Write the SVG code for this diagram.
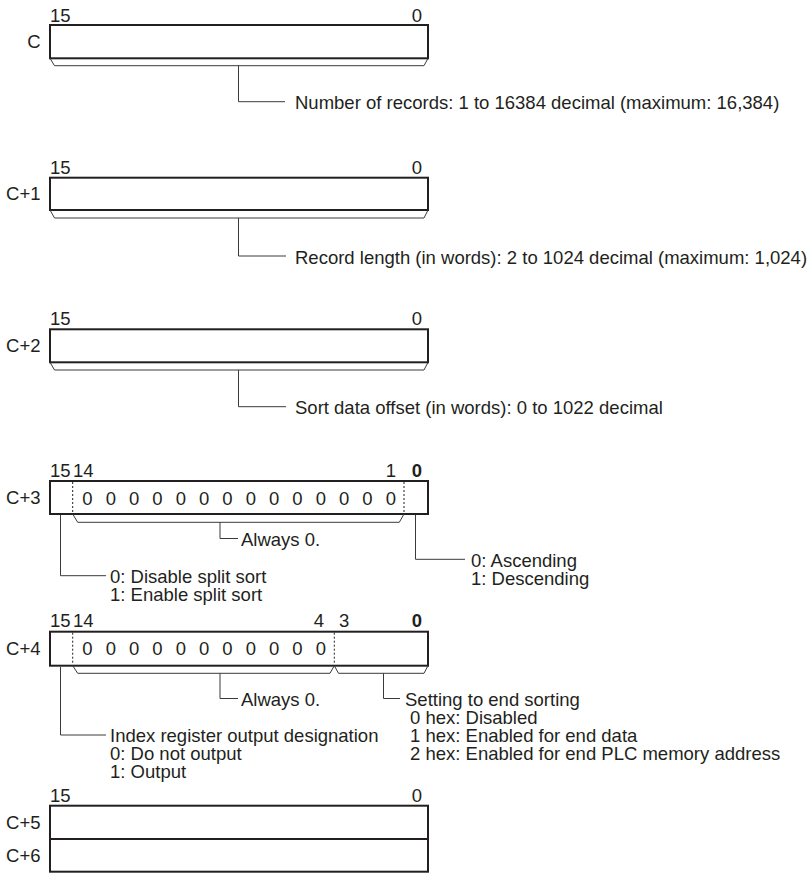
<svg xmlns="http://www.w3.org/2000/svg" width="811" height="873" viewBox="0 0 811 873">
<style>
text{font-family:"Liberation Sans",Arial,Helvetica,sans-serif;font-size:18.5px;fill:#231f20}
.e{text-anchor:end}
.m{text-anchor:middle}
.b{font-weight:bold}
.box{fill:#fff;stroke:#231f20;stroke-width:2}
.br{fill:none;stroke:#3a3a3a;stroke-width:1}
.ln{fill:none;stroke:#3a3a3a;stroke-width:1}
.dot{stroke:#231f20;stroke-width:1;stroke-dasharray:2 2}
</style>
<rect width="811" height="873" fill="#fff"/>

<g id="word-C">
<text x="50" y="22">15</text><text class="e" x="422" y="22">0</text>
<text class="e" x="40.5" y="48.2">C</text>
<rect class="box" x="50" y="25" width="378" height="33.3"/>
</g>

<g id="word-C1">
<text x="50" y="174.2">15</text><text class="e" x="422" y="174.2">0</text>
<text class="e" x="40.5" y="200.3">C+1</text>
<rect class="box" x="50" y="177.7" width="378" height="32.3"/>
</g>

<g id="word-C2">
<text x="50" y="325">15</text><text class="e" x="422" y="325">0</text>
<text class="e" x="40.5" y="352.3">C+2</text>
<rect class="box" x="50" y="329.3" width="378" height="33"/>
</g>

<g id="word-C3">
<text x="50" y="477.3">15</text><text x="73" y="477.3">14</text>
<text class="e" x="396" y="477.3">1</text><text class="e b" x="422" y="477.3">0</text>
<text class="e" x="40.5" y="504">C+3</text>
<rect class="box" x="50" y="481" width="378" height="33"/>
<line class="dot" x1="72.7" y1="482" x2="72.7" y2="513"/>
<line class="dot" x1="404" y1="482" x2="404" y2="513"/>
<g class="m">
<text class="m" x="87.5" y="504.5">0</text><text class="m" x="110.8" y="504.5">0</text><text class="m" x="134.2" y="504.5">0</text><text class="m" x="157.5" y="504.5">0</text><text class="m" x="180.8" y="504.5">0</text><text class="m" x="204.2" y="504.5">0</text><text class="m" x="227.5" y="504.5">0</text><text class="m" x="250.8" y="504.5">0</text><text class="m" x="274.2" y="504.5">0</text><text class="m" x="297.5" y="504.5">0</text><text class="m" x="320.8" y="504.5">0</text><text class="m" x="344.2" y="504.5">0</text><text class="m" x="367.5" y="504.5">0</text><text class="m" x="390.8" y="504.5">0</text>
</g>
</g>

<g id="word-C4">
<text x="50" y="626.7">15</text><text x="73" y="626.7">14</text>
<text class="e" x="324" y="626.7">4</text><text x="339" y="626.7">3</text>
<text class="e b" x="422" y="626.7">0</text>
<text class="e" x="40.5" y="655.2">C+4</text>
<rect class="box" x="50" y="631.7" width="378" height="34"/>
<line class="dot" x1="72.7" y1="632.7" x2="72.7" y2="664.7"/>
<line class="dot" x1="334.3" y1="632.7" x2="334.3" y2="664.7"/>
<text class="m" x="87.5" y="655">0</text><text class="m" x="110.8" y="655">0</text><text class="m" x="134.2" y="655">0</text><text class="m" x="157.5" y="655">0</text><text class="m" x="180.8" y="655">0</text><text class="m" x="204.2" y="655">0</text><text class="m" x="227.5" y="655">0</text><text class="m" x="250.8" y="655">0</text><text class="m" x="274.2" y="655">0</text><text class="m" x="297.5" y="655">0</text><text class="m" x="320.8" y="655">0</text>
</g>

<g id="word-C5-C6">
<text x="50" y="801.7">15</text><text class="e" x="422" y="801.7">0</text>
<text class="e" x="40.5" y="828.8">C+5</text>
<text class="e" x="40.5" y="861.8">C+6</text>
<rect class="box" x="50" y="805.7" width="378" height="33.3"/>
<rect class="box" x="50" y="839" width="378" height="32.7"/>
</g>

<g id="connectors">
<polyline class="br" points="50,58.3 54.5,65.7 424,65.7 428,58.3"/>
<polyline class="ln" points="238.5,65.7 238.5,101.7 285,101.7"/>
<polyline class="br" points="50,210 54.5,218 424,218 428,210"/>
<polyline class="ln" points="238.5,218 238.5,256 286,256"/>
<polyline class="br" points="50,362.3 54.5,370 424,370 428,362.3"/>
<polyline class="ln" points="238.5,370 238.5,406.7 286,406.7"/>
<polyline class="br" points="72.7,514 77.7,522.3 399.3,522.3 404,514"/>
<polyline class="ln" points="220,522.3 220,538.5 238,538.5"/>
<polyline class="ln" points="60.5,515 60.5,575.7 106,575.7"/>
<polyline class="ln" points="415.5,515 415.5,559.3 465,559.3"/>
<polyline class="br" points="72.7,665.7 77.7,673.3 330,673.3 334.3,665.7 338.5,673.3 424,673.3 428,665.7"/>
<polyline class="ln" points="220,673.3 220,698.5 238,698.5"/>
<polyline class="ln" points="383.5,673.3 383.5,698.5 400,698.5"/>
<polyline class="ln" points="60.5,666.7 60.5,735 106,735"/>
</g>

<g id="labels">
<text x="295" y="109">Number of records: 1 to 16384 decimal (maximum: 16,384)</text>
<text x="295" y="263.5">Record length (in words): 2 to 1024 decimal (maximum: 1,024)</text>
<text x="295" y="414">Sort data offset (in words): 0 to 1022 decimal</text>
<text x="241" y="546">Always 0.</text>
<text x="110" y="583.3">0: Disable split sort</text>
<text x="110" y="601.3">1: Enable split sort</text>
<text x="471" y="566.5">0: Ascending</text>
<text x="471" y="584.5">1: Descending</text>
<text x="241" y="706">Always 0.</text>
<text x="405" y="706">Setting to end sorting</text>
<text x="410" y="724">0 hex: Disabled</text>
<text x="410" y="742">1 hex: Enabled for end data</text>
<text x="410" y="760">2 hex: Enabled for end PLC memory address</text>
<text x="110" y="742">Index register output designation</text>
<text x="110" y="760">0: Do not output</text>
<text x="110" y="778">1: Output</text>
</g>
</svg>
